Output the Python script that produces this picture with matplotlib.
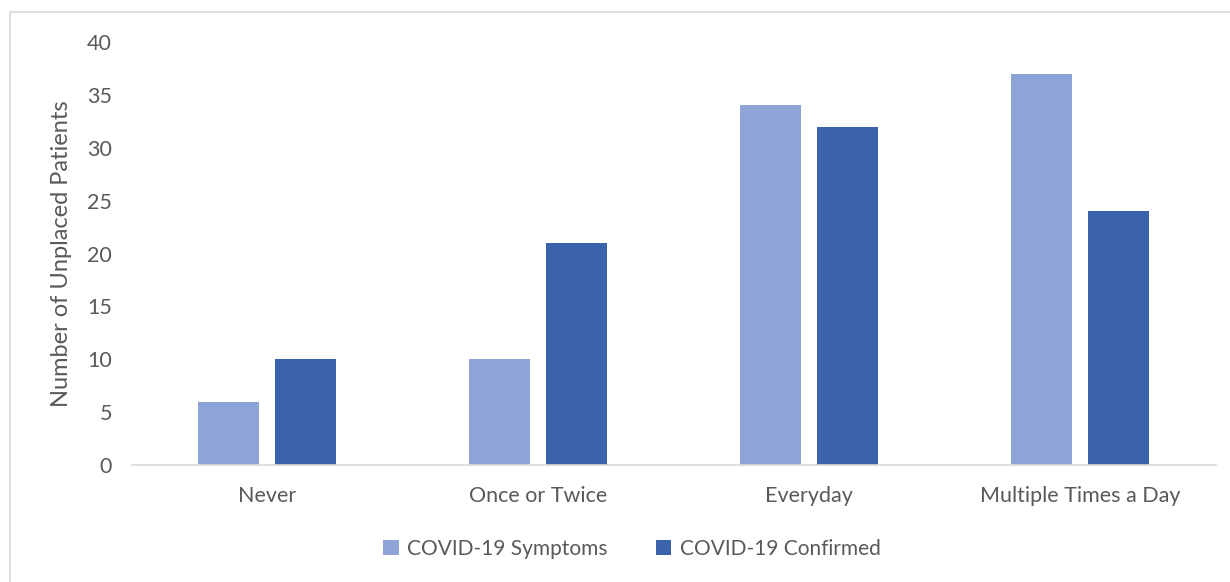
import numpy as np
import matplotlib.pyplot as plt
from matplotlib.patches import Rectangle

categories = ["Never", "Once or Twice", "Everyday", "Multiple Times a Day"]
symptoms = [6, 10, 34, 37]
confirmed = [10, 21, 32, 24]
series_names = ["COVID-19 Symptoms", "COVID-19 Confirmed"]

light_blue = "#8FA4D6"
dark_blue = "#3A63AC"
text_gray = "#595959"

plt.rcParams['font.family'] = ['Lato', 'DejaVu Sans']

fig = plt.figure(figsize=(12.3, 5.82), dpi=100)
# outer chart frame
fig.patches.append(Rectangle((10 / 1230, -0.1), 1.2, 1 - 12 / 582 + 0.1,
                             transform=fig.transFigure, fill=False,
                             edgecolor="#D9D9D9", linewidth=1.2))

ax = fig.add_axes([131.5 / 1230, 1 - 465 / 582, (1215.5 - 131.5) / 1230, (465 - 42) / 582])

x = np.arange(len(categories))
w = 0.225
off = 0.142
ax.bar(x - off, symptoms, w, color=light_blue, label=series_names[0])
ax.bar(x + off, confirmed, w, color=dark_blue, label=series_names[1])

ax.set_xlim(-0.5, len(categories) - 0.5)
ax.set_ylim(0, 40)
ax.set_yticks(range(0, 41, 5))
ax.set_xticks(x)
ax.set_xticklabels(categories)
ax.tick_params(axis='both', length=0, labelsize=15.5, colors=text_gray)
ax.tick_params(axis='y', pad=14)
ax.tick_params(axis='x', pad=15)

for s in ["top", "right", "left"]:
    ax.spines[s].set_visible(False)
ax.spines["bottom"].set_color("#D9D9D9")
ax.spines["bottom"].set_linewidth(1.2)

ax.set_ylabel("Number of Unplaced Patients", fontsize=17, color=text_gray)
ax.yaxis.set_label_coords(-0.055, 0.5)

fig.legend(loc="center", bbox_to_anchor=(632 / 1230, 1 - 549 / 582), ncol=2,
           frameon=False, fontsize=15, labelcolor=text_gray,
           handlelength=0.75, handleheight=0.75, columnspacing=2.3, handletextpad=0.4)

fig.savefig("out.png", dpi=100)
